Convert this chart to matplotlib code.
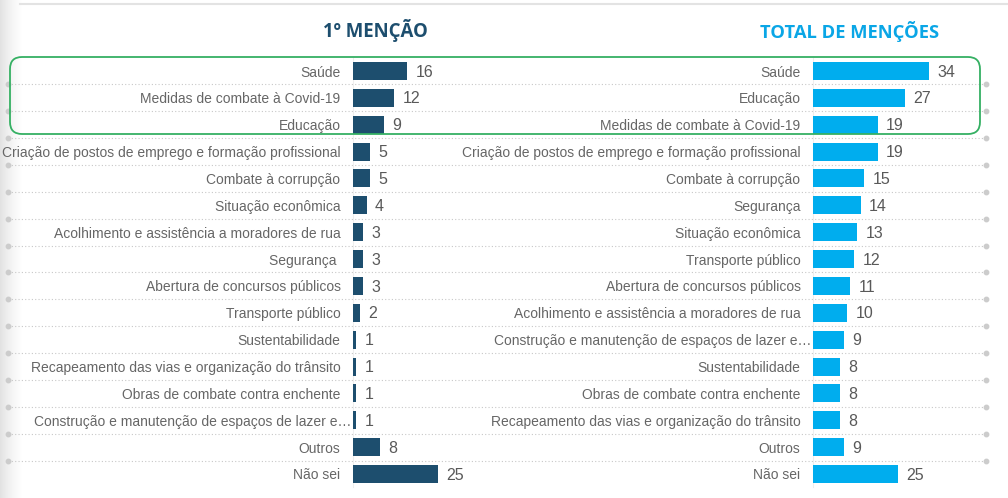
import numpy as np
import matplotlib.pyplot as plt
from matplotlib.patches import FancyBboxPatch
from matplotlib.transforms import blended_transform_factory, ScaledTranslation

plt.rcParams['font.family'] = ['Liberation Sans', 'DejaVu Sans']

# data
left_cats = ["Saúde", "Medidas de combate à Covid-19", "Educação",
             "Criação de postos de emprego e formação profissional",
             "Combate à corrupção", "Situação econômica",
             "Acolhimento e assistência a moradores de rua", "Segurança ",
             "Abertura de concursos públicos", "Transporte público",
             "Sustentabilidade", "Recapeamento das vias e organização do trânsito",
             "Obras de combate contra enchente",
             "Construção e manutenção de espaços de lazer e…", "Outros", "Não sei"]
left_vals = [16, 12, 9, 5, 5, 4, 3, 3, 3, 2, 1, 1, 1, 1, 8, 25]

right_cats = ["Saúde", "Educação", "Medidas de combate à Covid-19",
              "Criação de postos de emprego e formação profissional",
              "Combate à corrupção", "Segurança", "Situação econômica",
              "Transporte público", "Abertura de concursos públicos",
              "Acolhimento e assistência a moradores de rua",
              "Construção e manutenção de espaços de lazer e…",
              "Sustentabilidade", "Obras de combate contra enchente",
              "Recapeamento das vias e organização do trânsito", "Outros", "Não sei"]
right_vals = [34, 27, 19, 19, 15, 14, 13, 12, 11, 10, 9, 8, 8, 8, 9, 25]

left_title = "1º MENÇÃO"
right_title = "TOTAL DE MENÇÕES"

W, H = 1008, 498
fig = plt.figure(figsize=(W / 100, H / 100), dpi=100)
fig.patch.set_facecolor('white')

# soft shadow on the left edge
sh = fig.add_axes([0, 0, 22 / W, 1])
grad = np.linspace(0, 1, 50).reshape(1, -1)
sh.imshow(grad, cmap='Greys_r', vmin=-4, vmax=1, aspect='auto', extent=[0, 1, 0, 1])
sh.axis('off')

# top rule
fig.add_artist(plt.Line2D([20 / W, 1], [1 - 4 / H, 1 - 4 / H], color='#e3e3e3', lw=1.5))

y_top = 1 - 57.6 / H
y_bot = 1 - 487.4 / H
scale = 3.4  # pixels per unit


def panel(x0, width_px, cats, vals, color):
    ax = fig.add_axes([x0 / W, y_bot, width_px / W, y_top - y_bot])
    ypos = np.arange(len(cats))
    ax.barh(ypos, vals, height=0.67, color=color, zorder=3)
    ax.set_xlim(0, width_px / scale)
    ax.set_ylim(len(cats) - 0.5, -0.5)
    ax.set_yticks(ypos)
    ax.set_yticklabels(cats, fontsize=10, color='#666666')
    ax.tick_params(axis='y', length=0, pad=9)
    ax.set_xticks([])
    for s in ['top', 'right', 'bottom']:
        ax.spines[s].set_visible(False)
    ax.spines['left'].set_color('#eeeeee')
    ax.patch.set_alpha(0)
    # truncated labels sit closer to the bar
    for lab in ax.get_yticklabels():
        if lab.get_text().endswith('…'):
            lab.set_transform(lab.get_transform() +
                              ScaledTranslation(11 / 100, 0, fig.dpi_scale_trans))
    for y, v in zip(ypos, vals):
        ax.text(v + 8.5 / scale, y + 0.04, str(v), va='center', ha='left',
                fontsize=11.5, color='#595959')
    return ax


axl = panel(353, 125, left_cats, left_vals, '#1d4e6e')
axr = panel(813, 160, right_cats, right_vals, '#00adee')

# dotted separators across the whole width
tr = blended_transform_factory(fig.transFigure, axl.transData)
for i in range(len(left_cats) - 1):
    y = i + 0.5
    fig.add_artist(plt.Line2D([8 / W, 986 / W], [y, y], transform=tr,
                              color='#c8c8c8', lw=0.8, ls=(0, (1, 2))))
    fig.add_artist(plt.Line2D([8 / W, 986 / W], [y, y], transform=tr, ls='none',
                              marker='o', ms=3.2, color='#cccccc'))

# green highlight box around the top three
box = FancyBboxPatch((22 / W, 1 - 122 / H), 946 / W, 53 / H,
                     boxstyle='round,pad=0,rounding_size=0.025',
                     transform=fig.transFigure, fill=False,
                     ec='#35b063', lw=1.3, zorder=10,
                     mutation_aspect=W / H)
box.set_boxstyle('round', pad=12 / W, rounding_size=12 / W)
fig.add_artist(box)

fig.text(375 / W, 1 - 31 / H, left_title, ha='center', va='center',
         fontsize=13.4, fontweight='bold', color='#1d4e6e', family='Open Sans')
fig.text(850 / W, 1 - 31 / H, right_title, ha='center', va='center',
         fontsize=13.2, fontweight='bold', color='#0aa6e6', family='Open Sans')

fig.savefig('out.png', dpi=100)
